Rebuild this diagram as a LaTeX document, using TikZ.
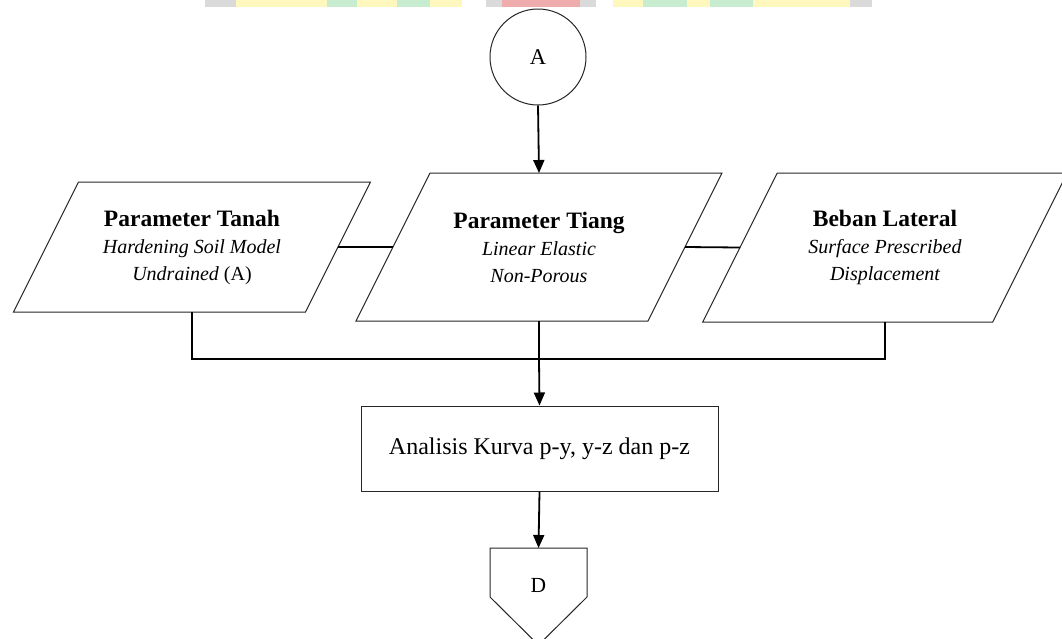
\documentclass[tikz,border=0pt]{standalone}
\usepackage{fontspec}
\setmainfont{Liberation Serif}
\usetikzlibrary{arrows.meta,calc}

\definecolor{wmyellow}{RGB}{254,248,190}
\definecolor{wmgreen}{RGB}{200,236,208}
\definecolor{wmred}{RGB}{238,172,172}
\definecolor{wmgray}{RGB}{218,218,218}

\tikzset{
  outline/.style={draw=black!85, line width=1pt},
  conn/.style={draw=black, line width=1.8pt},
  arrowconn/.style={conn, -{Triangle[length=13pt,width=11pt]}},
  inbox/.style={inner sep=0pt, outer sep=0pt, align=center,
    font=\fontsize{20}{27}\selectfont},
}
\newcommand{\ttl}[1]{{\bfseries\fontsize{23.5}{27}\selectfont #1}}

\begin{document}
\begin{tikzpicture}[x=1pt,y=-1pt]
\useasboundingbox (0,0) rectangle (1062,638);
\clip (0,0) rectangle (1062,638);

% faint emblem band along the top edge
\fill[wmgray] (205,0) rectangle (236,7);
\fill[wmyellow] (236,0) rectangle (462,7);
\fill[wmgreen] (327,0) rectangle (357,7);
\fill[wmgreen] (397,0) rectangle (430,7);
\fill[wmgray] (486,0) rectangle (596,7);
\fill[wmred] (502,0) rectangle (580,7);
\fill[wmyellow] (613,0) rectangle (850,7);
\fill[wmgreen] (643,0) rectangle (687,7);
\fill[wmgreen] (710,0) rectangle (753,7);
\fill[wmgray] (850,0) rectangle (872,7);

% start connector
\node[outline, circle, minimum size=96pt, inner sep=0pt,
      font=\fontsize{22.5}{26}\selectfont] (A) at (538,57) {A};

% input parallelograms (the node is the mid-height band)
\node[inbox, minimum width=292pt, minimum height=130pt] (tanah) at (192,247)
  {\ttl{Parameter Tanah}\\ \itshape Hardening Soil Model\\ {\itshape Undrained} (A)};
\node[inbox, minimum width=292pt, minimum height=148pt] (tiang) at (539,247)
  {\ttl{Parameter Tiang}\\ \itshape Linear Elastic\\ \itshape Non-Porous};
\node[inbox, minimum width=290pt, minimum height=149pt] (beban) at (885,247.5)
  {\ttl{Beban Lateral}\\ \itshape Surface Prescribed\\ \itshape Displacement};

\foreach \n/\s in {tanah/32.5, tiang/37, beban/37.25}{
  \draw[outline] ([xshift=\s pt]\n.north west) -- ([xshift=\s pt]\n.north east)
    -- ([xshift=-\s pt]\n.south east) -- ([xshift=-\s pt]\n.south west) -- cycle;
}

% process box
\node[outline, minimum width=357pt, minimum height=85pt, inner sep=0pt,
      font=\fontsize{24}{28}\selectfont] (analisis) at (539.5,448.5)
  {Analisis Kurva p-y, y-z dan p-z};

% off-page connector: the node spans from the top edge down to 622
\node[inbox, minimum width=97pt, minimum height=74pt,
      font=\fontsize{21.5}{25}\selectfont] (D) at (538.5,585) {D};
\draw[outline] (D.north west) -- (D.north east) -- ($(D.north east)+(0,49)$)
  -- ($(D.north)+(0,97)$) -- ($(D.north west)+(0,49)$) -- cycle;

% connectors
\coordinate (join) at (539,359);
\draw[arrowconn] (A.south) -- (tiang.north);
\draw[conn] (tanah.east) -- (tiang.west);
\draw[conn] (tiang.east) -- (beban.west);
\draw[conn] (tanah.south) |- (join);
\draw[conn] (beban.south) |- (join);
\draw[conn] (tiang.south) -- (join);
\draw[arrowconn] (join) -- (analisis.north);
\draw[arrowconn] (analisis.south) -- (D.north);
\end{tikzpicture}
\end{document}
